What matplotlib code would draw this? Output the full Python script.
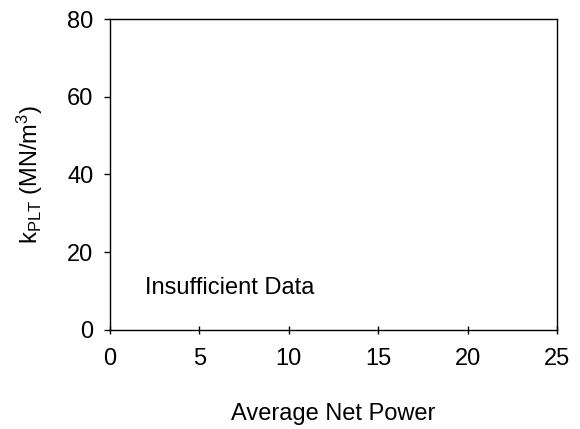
import matplotlib
matplotlib.use("Agg")
import matplotlib.pyplot as plt

plt.rcParams["font.family"] = ["Liberation Sans", "DejaVu Sans"]
plt.rcParams["mathtext.fontset"] = "custom"
plt.rcParams["mathtext.rm"] = "Liberation Sans"
plt.rcParams["mathtext.it"] = "Liberation Sans"

# zakresy osi i etykiety
x_ticks = [0, 5, 10, 15, 20, 25]
y_ticks = [0, 20, 40, 60, 80]
note = "Insufficient Data"
note_pos = (1.95, 10.8)

fig = plt.figure(figsize=(5.8, 4.29), dpi=100)
ax = fig.add_axes([0.1897, 0.2308, 0.7706, 0.7249])

ax.set_xlim(x_ticks[0], x_ticks[-1])
ax.set_ylim(y_ticks[0], y_ticks[-1])
ax.set_xticks(x_ticks)
ax.set_yticks(y_ticks)
ax.tick_params(axis="x", direction="inout", length=6, width=1, labelsize=17, pad=10)
ax.tick_params(axis="y", direction="out", length=4, width=1, labelsize=17, pad=8)
for s in ax.spines.values():
    s.set_linewidth(1)

ax.text(note_pos[0], note_pos[1], note, fontsize=17, ha="left", va="center")

ax.set_xlabel("Average Net Power", fontsize=17, labelpad=24)
ax.set_ylabel(r"k$_{\mathrm{PLT}}$ (MN/m$^{3}$)", fontsize=17, labelpad=16)

fig.savefig("out.png", dpi=100)
